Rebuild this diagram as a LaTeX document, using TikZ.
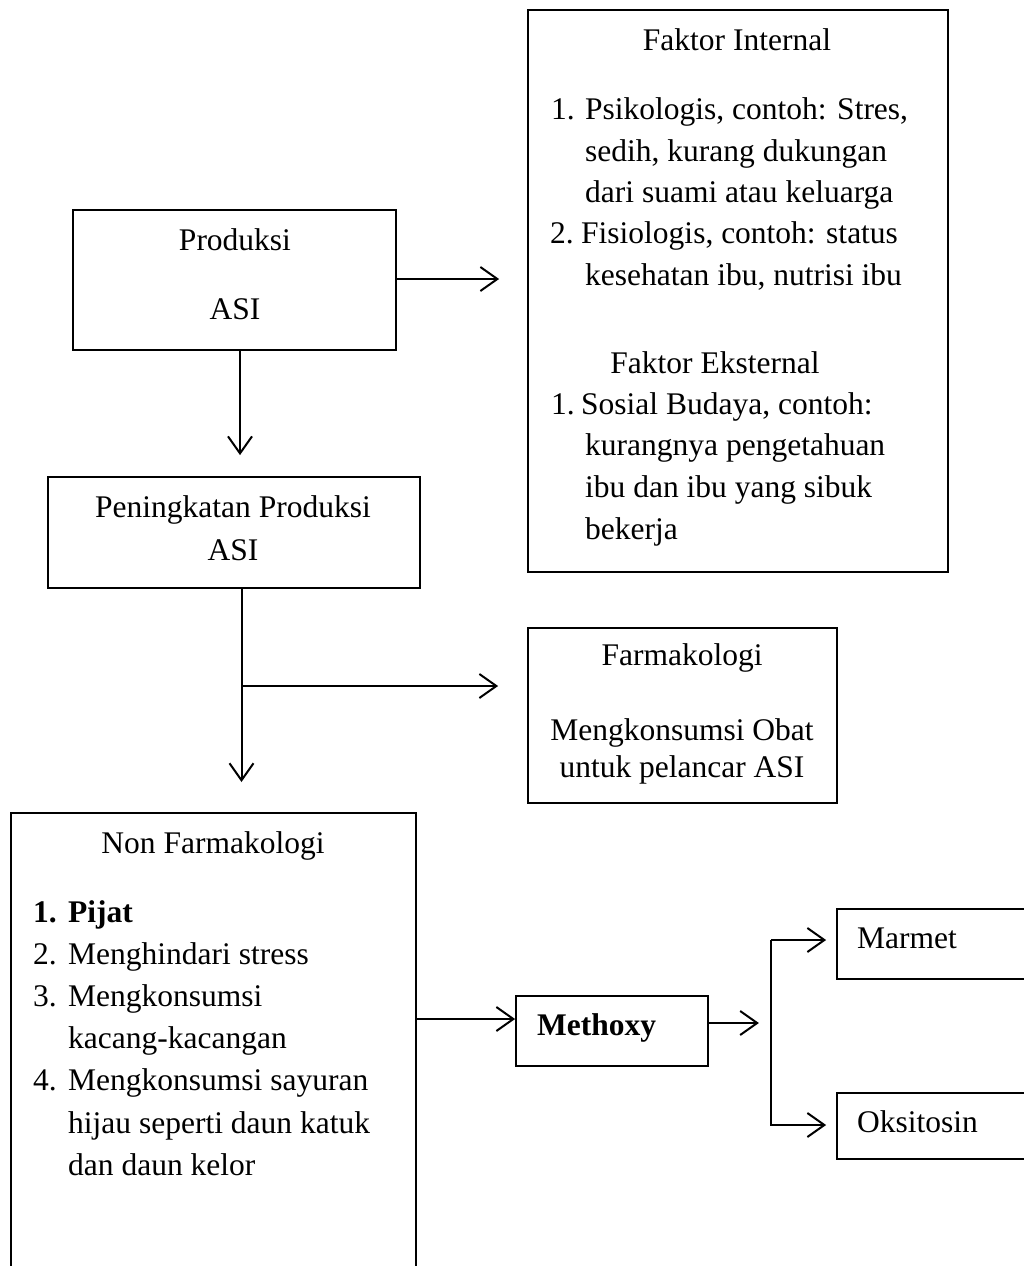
\documentclass[tikz,border=0pt]{standalone}
\usepackage{fontspec}
\setmainfont{Liberation Serif}
\usetikzlibrary{arrows.meta}
\begin{document}
\begin{tikzpicture}[x=1pt,y=-1pt,
  box/.style={draw,line width=1.8pt,inner sep=0pt,rectangle},
  txt/.style={inner sep=0pt,anchor=base west,font=\fontsize{31.5}{38}\selectfont},
  ctxt/.style={inner sep=0pt,anchor=base,font=\fontsize{31.5}{38}\selectfont},
  arr/.style={line width=2pt,-{Straight Barb[length=17pt,width=24pt]}},
  ln/.style={line width=2pt}]
\useasboundingbox (0,0) rectangle (1024,1266);
\clip (0,0) rectangle (1024,1266);
% boxes
\node[box,minimum width=420pt,minimum height=562pt] (faktor) at (738,291) {};
\node[box,minimum width=323pt,minimum height=140pt] (prod) at (234.5,280) {};
\node[box,minimum width=372pt,minimum height=111pt] (pen) at (234,532.5) {};
\node[box,minimum width=309pt,minimum height=175pt] (farm) at (682.5,715.5) {};
\node[box,minimum width=405pt,minimum height=487pt] (nonf) at (213.5,1056.5) {};
\node[box,minimum width=192pt,minimum height=70pt] (meth) at (612,1031) {};
\node[box,minimum width=223pt,minimum height=70pt] (marm) at (948.5,944) {};
\node[box,minimum width=223pt,minimum height=66pt] (oks) at (948.5,1126) {};
% Faktor texts
\node[ctxt] (fi) at (737,50) {Faktor Internal};
\node[txt] (fi1n) at (551,119) {1.};
\node[txt] (fi1a) at (585,119) {Psikologis, contoh: Stres,};
\node[txt] (fi1b) at (585,161) {sedih, kurang dukungan};
\node[txt] (fi1c) at (585,202) {dari suami atau keluarga};
\node[txt] (fi2n) at (550,243) {2.};
\node[txt] (fi2a) at (581,243) {Fisiologis, contoh: status};
\node[txt] (fi2b) at (585,285) {kesehatan ibu, nutrisi ibu};
\node[ctxt] (fe) at (715,373) {Faktor Eksternal};
\node[txt] (fe1n) at (551,414) {1.};
\node[txt] (fe1a) at (581,414) {Sosial Budaya, contoh:};
\node[txt] (fe1b) at (585,455.5) {kurangnya pengetahuan};
\node[txt] (fe1c) at (585,497) {ibu dan ibu yang sibuk};
\node[txt] (fe1d) at (585,539) {bekerja};
% Produksi
\node[ctxt] (p1) at (235,250) {Produksi};
\node[ctxt] (p2) at (235,319) {ASI};
% Peningkatan
\node[ctxt] (q1) at (233,517) {Peningkatan Produksi};
\node[ctxt] (q2) at (233,560) {ASI};
% Farmakologi
\node[ctxt] (f1) at (682,665) {Farmakologi};
\node[ctxt] (f2) at (682,740) {Mengkonsumsi Obat};
\node[ctxt] (f3) at (682,777) {untuk pelancar ASI};
% Non Farmakologi
\node[ctxt] (n0) at (213,853) {Non Farmakologi};
\node[txt,font=\fontsize{31.5}{38}\selectfont\bfseries] (n1n) at (33,922) {1.};
\node[txt,font=\fontsize{31.5}{38}\selectfont\bfseries] (n1a) at (68,922) {Pijat};
\node[txt] (n2n) at (33,964.2) {2.};
\node[txt] (n2a) at (68,964.2) {Menghindari stress};
\node[txt] (n3n) at (33,1006.4) {3.};
\node[txt] (n3a) at (68,1006.4) {Mengkonsumsi};
\node[txt] (n3b) at (68,1048.6) {kacang-kacangan};
\node[txt] (n4n) at (33,1090.8) {4.};
\node[txt] (n4a) at (68,1090.8) {Mengkonsumsi sayuran};
\node[txt] (n4b) at (68,1133) {hijau seperti daun katuk};
\node[txt] (n4c) at (68,1175) {dan daun kelor};
% Methoxy etc
\node[txt,font=\fontsize{31.5}{38}\selectfont\bfseries] (m1) at (537,1035) {Methoxy};
\node[txt] (mm) at (857,948) {Marmet};
\node[txt] (oo) at (857,1132) {Oksitosin};
% connectors
\coordinate (pe) at (prod.east |- 0,279);
\draw[arr] (pe) -- ([xshift=-28pt]faktor.west |- pe);
\draw[arr] ([xshift=5.5pt]prod.south) -- ([xshift=6pt,yshift=21pt]pen.north);
\coordinate (ps) at (241.5,588);
\coordinate (j) at (241.5,686);
\coordinate (ptip) at (241.5,782);
\draw[arr] (ps) -- (ptip);
\draw[arr] (j) -- ([xshift=-29pt]farm.west |- j);
\coordinate (mw) at ([yshift=12pt]meth.west);
\draw[arr] (nonf.east |- mw) -- (mw);
\draw[arr] ([yshift=8pt]meth.east) -- ++(50,0);
\coordinate (bt) at (771,940);
\coordinate (bb) at (771,1125);
\draw[arr] (bt) -- (bb) -- ([xshift=-10pt]oks.west |- bb);
\draw[arr] (bt) -- ([xshift=-10pt]marm.west |- bt);
\end{tikzpicture}
\end{document}
